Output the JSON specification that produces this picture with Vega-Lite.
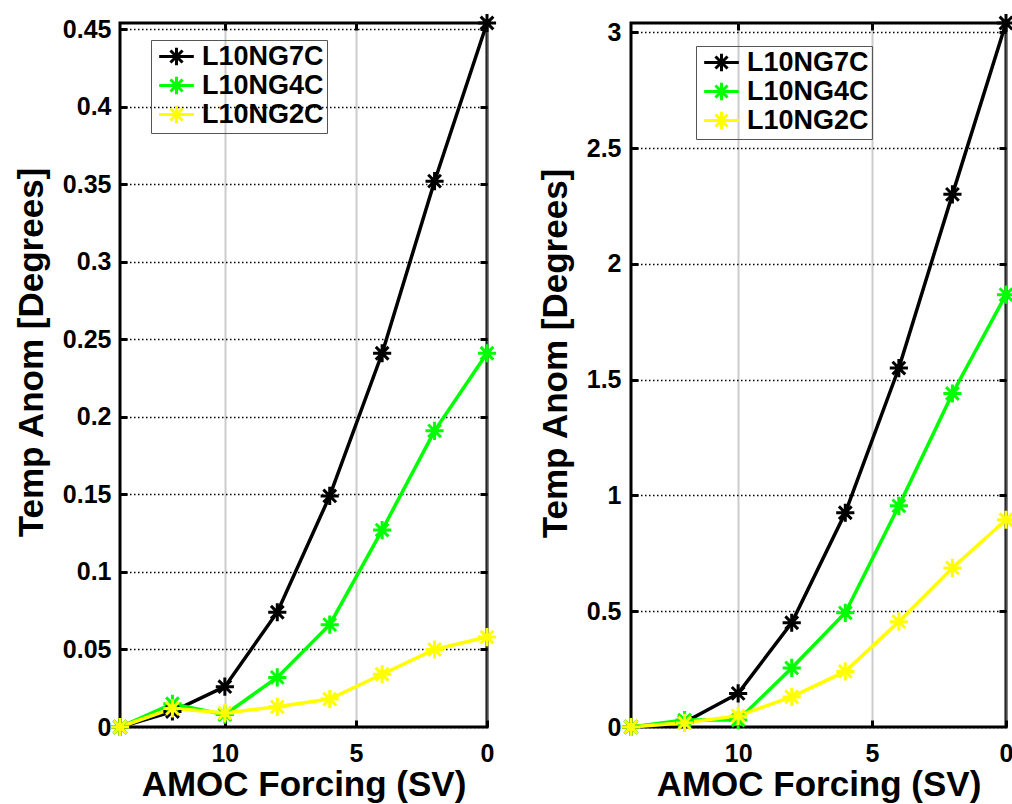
{
  "$schema": "https://vega.github.io/schema/vega-lite/v6.json",
  "padding": {"left": 12, "top": 6, "right": 0, "bottom": 0},
  "background": "white",
  "datasets": {
    "d": [
      {"panel": "A", "series": "L10NG7C", "x": 14, "y": 0},
      {"panel": "A", "series": "L10NG7C", "x": 12, "y": 0.010},
      {"panel": "A", "series": "L10NG7C", "x": 10, "y": 0.026},
      {"panel": "A", "series": "L10NG7C", "x": 8, "y": 0.074},
      {"panel": "A", "series": "L10NG7C", "x": 6, "y": 0.149},
      {"panel": "A", "series": "L10NG7C", "x": 4, "y": 0.241},
      {"panel": "A", "series": "L10NG7C", "x": 2, "y": 0.352},
      {"panel": "A", "series": "L10NG7C", "x": 0, "y": 0.454},
      {"panel": "A", "series": "L10NG4C", "x": 14, "y": 0},
      {"panel": "A", "series": "L10NG4C", "x": 12, "y": 0.015},
      {"panel": "A", "series": "L10NG4C", "x": 10, "y": 0.008},
      {"panel": "A", "series": "L10NG4C", "x": 8, "y": 0.032},
      {"panel": "A", "series": "L10NG4C", "x": 6, "y": 0.066},
      {"panel": "A", "series": "L10NG4C", "x": 4, "y": 0.127},
      {"panel": "A", "series": "L10NG4C", "x": 2, "y": 0.191},
      {"panel": "A", "series": "L10NG4C", "x": 0, "y": 0.241},
      {"panel": "A", "series": "L10NG2C", "x": 14, "y": 0},
      {"panel": "A", "series": "L10NG2C", "x": 12, "y": 0.012},
      {"panel": "A", "series": "L10NG2C", "x": 10, "y": 0.009},
      {"panel": "A", "series": "L10NG2C", "x": 8, "y": 0.013},
      {"panel": "A", "series": "L10NG2C", "x": 6, "y": 0.018},
      {"panel": "A", "series": "L10NG2C", "x": 4, "y": 0.034},
      {"panel": "A", "series": "L10NG2C", "x": 2, "y": 0.050},
      {"panel": "A", "series": "L10NG2C", "x": 0, "y": 0.058},
      {"panel": "B", "series": "L10NG7C", "x": 14, "y": 0},
      {"panel": "B", "series": "L10NG7C", "x": 12, "y": 0.02},
      {"panel": "B", "series": "L10NG7C", "x": 10, "y": 0.145},
      {"panel": "B", "series": "L10NG7C", "x": 8, "y": 0.45},
      {"panel": "B", "series": "L10NG7C", "x": 6, "y": 0.925},
      {"panel": "B", "series": "L10NG7C", "x": 4, "y": 1.55},
      {"panel": "B", "series": "L10NG7C", "x": 2, "y": 2.30},
      {"panel": "B", "series": "L10NG7C", "x": 0, "y": 3.04},
      {"panel": "B", "series": "L10NG4C", "x": 14, "y": 0},
      {"panel": "B", "series": "L10NG4C", "x": 12, "y": 0.03},
      {"panel": "B", "series": "L10NG4C", "x": 10, "y": 0.03},
      {"panel": "B", "series": "L10NG4C", "x": 8, "y": 0.255},
      {"panel": "B", "series": "L10NG4C", "x": 6, "y": 0.493},
      {"panel": "B", "series": "L10NG4C", "x": 4, "y": 0.955},
      {"panel": "B", "series": "L10NG4C", "x": 2, "y": 1.44},
      {"panel": "B", "series": "L10NG4C", "x": 0, "y": 1.867},
      {"panel": "B", "series": "L10NG2C", "x": 14, "y": 0},
      {"panel": "B", "series": "L10NG2C", "x": 12, "y": 0.018},
      {"panel": "B", "series": "L10NG2C", "x": 10, "y": 0.048},
      {"panel": "B", "series": "L10NG2C", "x": 8, "y": 0.13},
      {"panel": "B", "series": "L10NG2C", "x": 6, "y": 0.24},
      {"panel": "B", "series": "L10NG2C", "x": 4, "y": 0.455},
      {"panel": "B", "series": "L10NG2C", "x": 2, "y": 0.687},
      {"panel": "B", "series": "L10NG2C", "x": 0, "y": 0.895}
    ]
  },
  "config": {
    "font": "Liberation Sans",
    "view": {"stroke": "black", "strokeWidth": 3},
    "axis": {
      "labelFont": "Liberation Sans",
      "titleFont": "Liberation Sans",
      "labelFontSize": 25,
      "labelFontWeight": "bold",
      "labelColor": "black",
      "titleFontSize": 35,
      "titleFontWeight": "bold",
      "titleColor": "black",
      "tickColor": "black",
      "tickWidth": 3,
      "tickSize": -7,
      "domain": false,
      "labelFlush": false,
      "labelOverlap": false
    },
    "legend": {
      "orient": "none",
      "title": null,
      "symbolType": "M-2,0L2,0M0,-1L0,1M-0.7,-0.7L0.7,0.7M-0.7,0.7L0.7,-0.7",
      "symbolSize": 300,
      "symbolStrokeWidth": 3,
      "symbolFillColor": "transparent",
      "symbolOffset": 9,
      "labelOffset": 12,
      "labelFont": "Liberation Sans",
      "labelFontSize": 27,
      "labelFontWeight": "bold",
      "labelColor": "black",
      "labelLimit": 300,
      "strokeColor": "#555555",
      "padding": 3,
      "rowPadding": -2
    }
  },
  "bounds": "flush",
  "spacing": 144,
  "resolve": {"scale": {"color": "independent", "y": "independent"}, "legend": {"color": "independent"}},
  "hconcat": [
    {
      "width": 367,
      "height": 704,
      "data": {"name": "d"},
      "transform": [{"filter": "datum.panel == 'A'"}],
      "encoding": {
        "x": {"field": "x", "type": "quantitative",
              "scale": {"domain": [0, 14], "reverse": true, "nice": false},
              "axis": {"values": [0, 5, 10], "format": "d", "title": "AMOC Forcing (SV)",
                       "grid": true, "gridColor": "#999999", "gridDash": [1, 1], "gridWidth": 2,
                       "labelPadding": 21, "titlePadding": 1}},
        "y": {"field": "y", "type": "quantitative",
              "scale": {"domain": [0, 0.454], "nice": false},
              "axis": {"values": [0, 0.05, 0.1, 0.15, 0.2, 0.25, 0.3, 0.35, 0.4, 0.45], "format": ".2~f",
                       "title": "Temp Anom [Degrees]", "grid": true, "gridColor": "black",
                       "gridDash": [1.5, 2.5], "gridWidth": 1.5, "labelPadding": 16,
                       "titlePadding": 13, "titleY": 329}},
        "color": {"field": "series", "type": "nominal",
                  "scale": {"domain": ["L10NG7C", "L10NG4C", "L10NG2C"], "range": ["#000000", "#00ff00", "#ffff00"]},
                  "legend": {"legendX": 31, "legendY": 17}}
      },
      "layer": [
        {"mark": {"type": "line", "strokeWidth": 3.5}},
        {"mark": {"type": "point", "shape": "M-1,0L1,0M0,-1L0,1M-0.7,-0.7L0.7,0.7M-0.7,0.7L0.7,-0.7",
                  "filled": false, "size": 330, "strokeWidth": 3, "opacity": 1},
         "encoding": {
           "x": {"field": "x", "type": "quantitative",
                 "scale": {"domain": [0, 14], "reverse": true, "nice": false},
                 "axis": {"orient": "top", "values": [5, 10], "labels": false, "title": null, "grid": false}},
           "y": {"field": "y", "type": "quantitative",
                 "scale": {"domain": [0, 0.454], "nice": false},
                 "axis": {"orient": "right", "values": [0.05, 0.1, 0.15, 0.2, 0.25, 0.3, 0.35, 0.4, 0.45], "labels": false, "title": null, "grid": false}}
         }}
      ],
      "resolve": {"axis": {"x": "independent", "y": "independent"}}
    },
    {
      "width": 375,
      "height": 704,
      "data": {"name": "d"},
      "transform": [{"filter": "datum.panel == 'B'"}],
      "encoding": {
        "x": {"field": "x", "type": "quantitative",
              "scale": {"domain": [0, 14], "reverse": true, "nice": false},
              "axis": {"values": [0, 5, 10], "format": "d", "title": "AMOC Forcing (SV)",
                       "grid": true, "gridColor": "#999999", "gridDash": [1, 1], "gridWidth": 2,
                       "labelPadding": 21, "titlePadding": 1}},
        "y": {"field": "y", "type": "quantitative",
              "scale": {"domain": [0, 3.04], "nice": false},
              "axis": {"values": [0, 0.5, 1, 1.5, 2, 2.5, 3], "format": ".1~f",
                       "title": "Temp Anom [Degrees]", "grid": true, "gridColor": "black",
                       "gridDash": [1.5, 2.5], "gridWidth": 1.5, "labelPadding": 17,
                       "titlePadding": 13, "titleY": 330}},
        "color": {"field": "series", "type": "nominal",
                  "scale": {"domain": ["L10NG7C", "L10NG4C", "L10NG2C"], "range": ["#000000", "#00ff00", "#ffff00"]},
                  "legend": {"legendX": 65, "legendY": 23}}
      },
      "layer": [
        {"mark": {"type": "line", "strokeWidth": 3.5}},
        {"mark": {"type": "point", "shape": "M-1,0L1,0M0,-1L0,1M-0.7,-0.7L0.7,0.7M-0.7,0.7L0.7,-0.7",
                  "filled": false, "size": 330, "strokeWidth": 3, "opacity": 1},
         "encoding": {
           "x": {"field": "x", "type": "quantitative",
                 "scale": {"domain": [0, 14], "reverse": true, "nice": false},
                 "axis": {"orient": "top", "values": [5, 10], "labels": false, "title": null, "grid": false}},
           "y": {"field": "y", "type": "quantitative",
                 "scale": {"domain": [0, 3.04], "nice": false},
                 "axis": {"orient": "right", "values": [0.5, 1, 1.5, 2, 2.5, 3], "labels": false, "title": null, "grid": false}}
         }}
      ],
      "resolve": {"axis": {"x": "independent", "y": "independent"}}
    }
  ]
}
